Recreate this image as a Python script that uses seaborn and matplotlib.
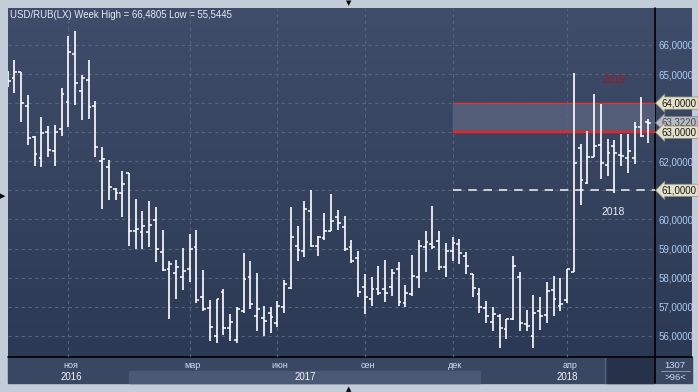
import numpy as np
import matplotlib
matplotlib.use("Agg")
import matplotlib.pyplot as plt
import matplotlib.transforms as mtrans
from matplotlib.patches import Rectangle
import seaborn as sns

# ---------------- data (weekly USD/RUB bars) ----------------
opens = [64.90, 64.85, 65.06, 63.91, 62.82, 62.10, 63.00, 62.36, 63.11, 64.03,
         65.69, 64.43, 64.80, 63.91, 62.00, 61.79, 61.04, 60.90, 61.59, 59.60,
         59.56, 59.56, 59.97, 58.87, 58.28, 58.17, 58.01, 58.28, 59.06, 57.34,
         56.94, 55.99, 57.50, 56.26, 55.85, 56.86, 58.01, 56.68, 56.60, 56.77,
         56.43, 57.00, 57.65, 59.10, 58.91, 60.29, 59.10, 59.37, 59.60, 60.07,
         59.73, 59.06, 58.66, 57.69, 57.26, 57.60, 57.60, 57.67, 58.28, 57.14,
         57.42, 58.01, 59.04, 59.14, 59.27, 58.35, 58.91, 59.14, 58.74, 58.11,
         57.43, 56.94, 56.46, 56.68, 56.22, 56.56, 58.03, 56.39, 56.00, 56.86,
         56.71, 57.57, 57.02, 57.23, 58.20, 62.45, 61.26, 62.16, 62.56, 61.87,
         62.53, 62.22, 62.10, 62.10, 63.19, 63.34]
highs = [65.10, 65.48, 65.06, 64.28, 62.87, 63.51, 63.21, 63.25, 64.51, 66.31,
         66.48, 64.97, 65.48, 64.07, 62.50, 62.04, 61.09, 61.67, 61.59, 60.69,
         60.30, 60.63, 60.43, 59.64, 58.57, 58.60, 59.03, 59.50, 59.64, 58.26,
         57.23, 57.25, 57.60, 56.75, 57.00, 58.83, 58.57, 58.15, 57.03, 57.00,
         57.19, 57.92, 60.42, 59.77, 60.63, 61.01, 59.44, 60.23, 60.86, 60.32,
         60.12, 59.29, 58.91, 58.12, 58.01, 58.40, 58.60, 58.29, 58.52, 57.74,
         58.78, 59.29, 59.60, 60.46, 59.60, 59.18, 59.38, 59.33, 58.89, 58.11,
         57.63, 57.19, 56.98, 56.74, 56.56, 58.75, 58.18, 56.88, 57.40, 57.34,
         57.86, 58.05, 57.97, 58.30, 65.05, 62.58, 63.05, 64.30, 63.96, 62.77,
         62.73, 62.94, 62.94, 63.36, 64.22, 63.44]
lows = [64.55, 64.36, 63.36, 62.56, 61.85, 61.81, 62.16, 61.85, 62.88, 63.19,
        63.94, 63.42, 63.45, 62.16, 60.37, 60.67, 60.67, 60.09, 59.10, 58.98,
        58.97, 59.06, 58.55, 58.22, 56.56, 57.27, 57.58, 57.86, 57.14, 56.86,
        55.83, 55.74, 56.02, 55.83, 55.74, 56.77, 56.91, 56.17, 56.00, 56.10,
        56.31, 56.77, 57.60, 58.58, 58.72, 59.04, 58.75, 59.31, 59.60, 59.64,
        58.91, 58.49, 57.32, 56.75, 57.03, 57.40, 57.17, 57.38, 57.02, 57.00,
        57.38, 57.65, 58.20, 59.00, 58.26, 58.03, 58.58, 58.47, 58.12, 57.32,
        56.80, 56.43, 56.17, 55.59, 55.88, 56.55, 56.17, 56.17, 55.57, 56.20,
        56.45, 56.68, 56.85, 57.11, 58.20, 60.50, 61.22, 62.16, 61.38, 61.49,
        60.90, 61.84, 61.59, 61.91, 62.82, 62.62]
closes = [64.76, 65.06, 63.99, 62.79, 62.24, 62.96, 62.39, 63.00, 64.30, 65.75,
          64.70, 64.85, 63.86, 62.50, 62.07, 61.10, 60.90, 61.22, 59.60, 59.66,
          59.77, 59.80, 58.98, 58.26, 58.47, 58.37, 58.23, 58.98, 57.22, 56.91,
          56.29, 57.25, 56.26, 56.46, 56.91, 57.95, 57.08, 56.91, 56.51, 56.65,
          57.02, 57.78, 59.38, 58.95, 60.35, 59.09, 59.38, 59.60, 59.96, 59.87,
          59.00, 58.57, 57.49, 57.34, 57.60, 57.48, 57.48, 58.17, 57.17, 57.48,
          58.05, 59.09, 59.23, 59.06, 58.35, 58.91, 59.20, 58.83, 58.40, 57.63,
          56.98, 56.68, 56.74, 56.25, 56.56, 58.41, 56.43, 56.33, 56.79, 56.68,
          57.54, 57.26, 57.09, 58.30, 61.95, 61.36, 62.16, 62.53, 61.93, 62.27,
          62.27, 62.19, 62.36, 63.17, 62.87, 63.322]

title_text = "USD/RUB(LX) Week High = 66,4805 Low = 55,5445"
month_labels = ["ноя", "мар", "июн", "сен", "дек", "апр"]
month_index = [9, 27, 40, 53, 66, 83]
year_labels = ["2016", "2017", "2018"]
year_index = [9.5, 44.1, 83.1]
year_band = (18.0, 70.1)          # 2017 span in bar units
grid_levels = [56, 57, 58, 59, 60, 61, 62, 63, 64, 65, 66]
plain_ticks = [56, 57, 58, 59, 60, 62, 65, 66]
zone_low, zone_high = 63.0, 64.0
zone_start = 66
support_level = 61.0
last_close_label = 63.3220
boxed_levels = [64.0, 63.0, 61.0]
bar_count_text = ("1307", ">96<")

# ---------------- style ----------------
sns.set_theme(style="dark")
plt.rcParams["font.family"] = ["Liberation Sans", "DejaVu Sans"]

W, H = 698, 392
fig = plt.figure(figsize=(W / 100, H / 100), dpi=100)
fig.patch.set_facecolor("#c3ccd9")

# background (pixel coordinates)
bg = fig.add_axes([0, 0, 1, 1], zorder=0)
bg.set_xlim(0, W)
bg.set_ylim(H, 0)
bg.axis("off")
grad = np.linspace(0, 1, 256).reshape(-1, 1)
top_c = np.array([0x40, 0x4d, 0x6a]) / 255
bot_c = np.array([0x2c, 0x39, 0x54]) / 255
img = top_c[None, None, :] * (1 - grad[:, :, None]) + bot_c[None, None, :] * grad[:, :, None]
bg.imshow(img, extent=(8, 692, 357, 8), aspect="auto", zorder=0)
bg.add_patch(Rectangle((8, 357), 684, 26, color="#3a4763", zorder=1))
bg.add_patch(Rectangle((607, 358), 47, 25, color="#26324a", zorder=2))
bg.plot([605, 605], [358, 383], color="#56627c", lw=1, zorder=2)
bg.plot([655, 655], [8, 383], color="black", lw=1.2, zorder=5)
bg.plot([8, 692], [357, 357], color="black", lw=1.2, zorder=5)
bg.plot([661, 690], [371, 371], color="#8090aa", lw=0.8, zorder=5)
bg.text(675, 365, bar_count_text[0], ha="center", va="center", color="#d0d9e8", fontsize=6.8, zorder=6)
bg.text(675, 378, bar_count_text[1], ha="center", va="center", color="#d0d9e8", fontsize=6.8, zorder=6)
for (x, y, s) in [(349, 3, "▼"), (349, 389, "▲"), (3, 196, "▶")]:
    bg.text(x, y, s, ha="center", va="center", fontsize=5, color="black",
            family=["DejaVu Sans"], zorder=6)

# main chart axes
L, R, T, B = 8.3, 655.0, 8.3, 357.0
ax = fig.add_axes([L / W, 1 - B / H, (R - L) / W, (B - T) / H], zorder=2)
ax.patch.set_alpha(0)
idx = np.arange(len(opens))
ax.set_xlim(0.089, 96.04)
ax.set_ylim(55.27, 67.26)
for s in ax.spines.values():
    s.set_visible(False)

gc = "#56627f"
for g in grid_levels:
    ax.axhline(g, color=gc, lw=0.8, ls=(0, (3, 3)), zorder=1)
for m in month_index:
    ax.axvline(m, color=gc, lw=0.8, ls=(0, (3, 3)), zorder=1)

# resistance zone and levels
ax.add_patch(Rectangle((zone_start, zone_low), 100, zone_high - zone_low,
                       color="#535d77", zorder=0.5))
ax.hlines(zone_high, zone_start, 97, color="#ff2a2a", lw=0.8, zorder=3)
ax.hlines(zone_low, zone_start, 97, color="#ff1c1c", lw=1.6, zorder=3)
ax.hlines(support_level, zone_start, 97, color="#f4f4f4", lw=1.1,
          ls=(0, (5.5, 4.5)), zorder=3)

# OHLC bars
tick = 0.42
ax.vlines(idx, lows, highs, color="white", lw=1.2, zorder=4)
ax.hlines(opens, idx - tick, idx, color="white", lw=1.1, zorder=4)
ax.hlines(closes, idx, idx + tick, color="white", lw=1.1, zorder=4)

# right axis labels
ax.set_xticks([])
ax.yaxis.tick_right()
ax.set_yticks(plain_ticks)
ax.set_yticklabels([f"{v:.4f}".replace(".", ",") for v in plain_ticks])
ax.tick_params(axis="y", length=0, pad=2.2, labelsize=7, labelcolor="#aecbf2")

ytr = mtrans.blended_transform_factory(ax.transAxes, ax.transData)
xl = (662 - L) / (R - L)
ax.text(xl, last_close_label, f"{last_close_label:.4f}".replace(".", ","),
        transform=ytr, ha="left", va="center", fontsize=7, color="#4a4a4a",
        bbox=dict(boxstyle="larrow,pad=0.12", fc="#b8bcc4", ec="#80848c", lw=0.5),
        clip_on=False, zorder=6)
for lv in boxed_levels:
    ax.text(xl, lv, f"{lv:.4f}".replace(".", ","), transform=ytr, ha="left",
            va="center", fontsize=7, color="#1a1a1a",
            bbox=dict(boxstyle="larrow,pad=0.12", fc="#e4e1c9", ec="#8c8a78", lw=0.5),
            clip_on=False, zorder=7)

# annotations inside plot
ptr = mtrans.blended_transform_factory(ax.transData, bg.transData)
ax.text(90.0, 80, "2019", transform=ptr, ha="center", va="center",
        fontsize=7.5, color="#a8101c", zorder=5)
ax.text(89.9, 212, "2018", transform=ptr, ha="center", va="center",
        fontsize=7.5, color="#f0f0f0", zorder=5)

# title
bg.text(10, 15, title_text, ha="left", va="center", fontsize=6.9, color="#e6ebf4", zorder=6)

# bottom time axis
bg.add_patch(Rectangle((7.7 + 6.74 * year_band[0], 371), 6.74 * (year_band[1] - year_band[0]),
                       12, color="#4a5876", zorder=1.5))
for lab, m in zip(month_labels, month_index):
    ax.text(m + 0.4, 366, lab, transform=ptr, ha="center", va="center",
            fontsize=6.5, color="#d6deec", clip_on=False, zorder=6)
for lab, m in zip(year_labels, year_index):
    ax.text(m, 377, lab, transform=ptr, ha="center", va="center",
            fontsize=7, color="#f2f4f8", clip_on=False, zorder=6)

fig.savefig("out.png", dpi=100, facecolor=fig.get_facecolor())
